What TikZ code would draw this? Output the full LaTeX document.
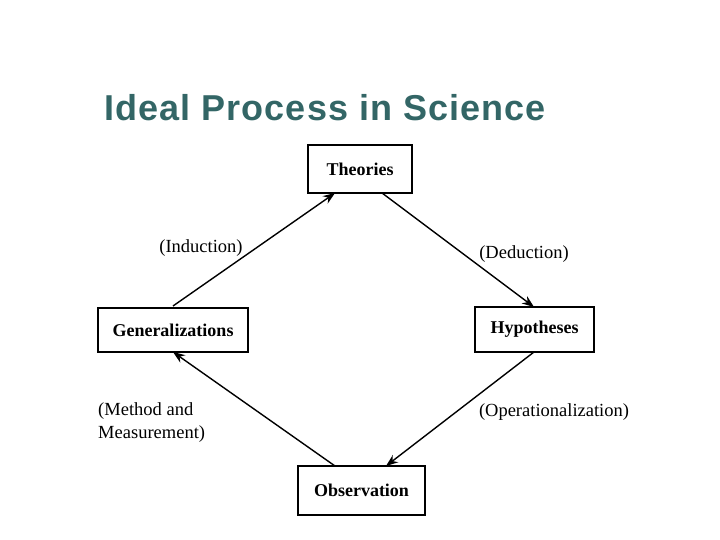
\documentclass[tikz,border=0pt]{standalone}
\usepackage{fontspec}
\setmainfont{Liberation Serif}
\newfontfamily\titlefont[LetterSpace=3]{Liberation Sans}
\usetikzlibrary{arrows.meta}
\definecolor{titleteal}{HTML}{336666}
\tikzset{
  box/.style={draw=black, line width=1.6pt, inner sep=0pt, font=\fontsize{18}{21}\selectfont\bfseries, fill=white},
  conn/.style={draw=black, line width=1.4pt, -{Stealth[length=12pt,width=9pt]}},
  lbl/.style={font=\fontsize{18.5}{22}\selectfont, inner sep=0pt},
}
\begin{document}
\begin{tikzpicture}[x=1pt,y=-1pt]
\useasboundingbox (0,0) rectangle (720,540);
\node[anchor=west, text=titleteal, font=\titlefont\fontsize{36}{40}\selectfont\bfseries, inner sep=0pt] (title) at (104,108) {Ideal Process in Science};
\node[box, minimum width=104pt, minimum height=48pt] (th) at (360,169) {\raisebox{-2pt}{Theories}};
\node[box, minimum width=150pt, minimum height=44pt] (ge) at (173,330) {Generalizations};
\node[box, minimum width=119pt, minimum height=45pt] (hy) at (534.5,329.5) {\raisebox{-2pt}{Hypotheses}};
\node[box, minimum width=127pt, minimum height=49pt] (ob) at (361.5,490.5) {Observation};
\coordinate (a1s) at (173,306);
\coordinate (a1e) at (335,193);
\coordinate (a2s) at (382,193);
\coordinate (a2e) at (534,307);
\coordinate (a3s) at (534,352);
\coordinate (a3e) at (386,466);
\coordinate (a4s) at (335,466);
\coordinate (a4e) at (173,352);
\draw[conn] (a1s) -- (a1e);
\draw[conn] (a2s) -- (a2e);
\draw[conn] (a3s) -- (a3e);
\draw[conn] (a4s) -- (a4e);
\node[lbl] (ind) at (201,248) {(Induction)};
\node[lbl] (ded) at (524,254) {(Deduction)};
\node[lbl, anchor=north west, align=left, font=\fontsize{18.5}{23}\selectfont] (mm) at (98,402) {(Method and\\Measurement)};
\node[lbl] (op) at (554,412) {(Operationalization)};
\end{tikzpicture}
\end{document}
